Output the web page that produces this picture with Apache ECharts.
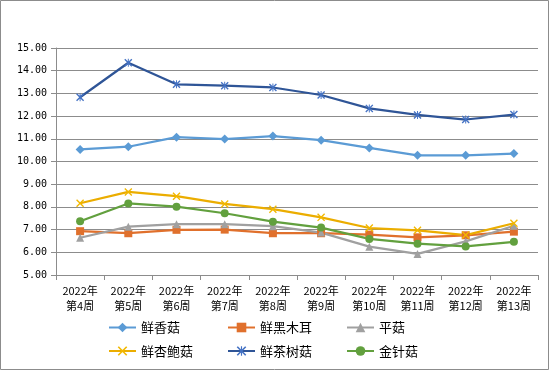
<!DOCTYPE html>
<html><head><meta charset="utf-8">
<script src="https://cdn.jsdelivr.net/npm/echarts@6/dist/echarts.min.js"></script>
<style>html,body{margin:0;padding:0;background:#fff}#c{width:549px;height:370px}</style>
</head><body><div id="c"></div>
<script>
const categories = ['2022年\n第4周','2022年\n第5周','2022年\n第6周','2022年\n第7周','2022年\n第8周','2022年\n第9周','2022年\n第10周','2022年\n第11周','2022年\n第12周','2022年\n第13周'];
const seriesNames = ['鲜香菇','鲜黑木耳','平菇','鲜杏鲍菇','鲜茶树菇','金针菇'];
const xianxianggu = [10.53,10.65,11.07,10.99,11.12,10.94,10.60,10.27,10.27,10.35];
const xianheimuer = [6.93,6.84,6.99,7.00,6.84,6.84,6.78,6.66,6.75,6.91];
const pinggu = [6.64,7.13,7.24,7.24,7.15,6.87,6.25,5.93,6.48,7.17];
const xingbaogu = [8.16,8.66,8.47,8.13,7.90,7.54,7.07,6.97,6.76,7.28];
const chashugu = [12.83,14.35,13.40,13.34,13.26,12.93,12.34,12.05,11.85,12.07];
const jinzhengu = [7.37,8.15,8.01,7.72,7.35,7.09,6.59,6.38,6.26,6.46];
const yTicks = {min:5, max:15, interval:1};

const font = '"Noto Sans CJK SC", sans-serif';
const monoFont = '"DejaVu Sans Mono", monospace';
const diamond = 'path://M5,0L10,5L5,10L0,5Z';
const xMark = 'path://M0,1.2L1.2,0L10,8.8L8.8,10Z M8.8,0L10,1.2L1.2,10L0,8.8Z';
const star = 'path://M0,1.2L1.2,0L10,8.8L8.8,10Z M8.8,0L10,1.2L1.2,10L0,8.8Z M4.4,0L5.6,0L5.6,10L4.4,10Z';

function mk(name, data, lineColor, markColor, symbol, size){
  return {name, type:'line', data, symbol, symbolSize:size, showAllSymbol:true,
    lineStyle:{color:lineColor, width:2.25},
    itemStyle:{color:markColor, borderColor:markColor, borderWidth:0},
    emphasis:{disabled:true}};
}
const series = [
  mk(seriesNames[0], xianxianggu, '#5B9BD5', '#5B9BD5', diamond, 9),
  mk(seriesNames[1], xianheimuer, '#E0702C', '#E0702C', 'rect', 8),
  mk(seriesNames[2], pinggu, '#A0A0A0', '#A0A0A0', 'triangle', 8),
  mk(seriesNames[3], xingbaogu, '#EBAD00', '#F2B800', xMark, 8),
  mk(seriesNames[4], chashugu, '#2F5597', '#4472C4', star, 8),
  mk(seriesNames[5], jinzhengu, '#62A03E', '#62A03E', 'circle', 8)
];
const legendCommon = {orient:'vertical', top:321, padding:0, itemWidth:27, itemHeight:12, itemGap:10.5,
  textStyle:{fontFamily:font, fontSize:13, color:'#000'}, selectedMode:false};
const chart = echarts.init(document.getElementById('c'), null, {renderer:'canvas'});
chart.setOption({
  animation:false,
  backgroundColor:'#fff',
  graphic:[{type:'rect', shape:{x:0.5,y:0.5,width:548,height:369}, style:{fill:'none', stroke:'#8C8C8C', lineWidth:1}, silent:true}],
  grid:{left:56, right:11, top:48, bottom:95, containLabel:false},
  legend:[
    Object.assign({}, legendCommon, {left:108, data:[seriesNames[0], seriesNames[3]]}),
    Object.assign({}, legendCommon, {left:227, data:[seriesNames[1], seriesNames[4]]}),
    Object.assign({}, legendCommon, {left:346, data:[seriesNames[2], seriesNames[5]]})
  ],
  xAxis:{type:'category', data:categories, boundaryGap:true,
    axisLine:{lineStyle:{color:'#8C8C8C', width:1}},
    axisTick:{show:true, length:5, lineStyle:{color:'#8C8C8C'}, alignWithLabel:false},
    axisLabel:{fontFamily:font, fontSize:11, color:'#000', margin:8, lineHeight:15, interval:0}},
  yAxis:{type:'value', min:yTicks.min, max:yTicks.max, interval:yTicks.interval,
    axisLine:{show:true, lineStyle:{color:'#8C8C8C', width:1}},
    axisTick:{show:true, length:5, lineStyle:{color:'#8C8C8C'}},
    splitLine:{lineStyle:{color:'#8C8C8C', width:1}},
    axisLabel:{fontFamily:monoFont, fontSize:10, color:'#000', margin:9, formatter:v=>v.toFixed(2)}},
  series
});
</script></body></html>
